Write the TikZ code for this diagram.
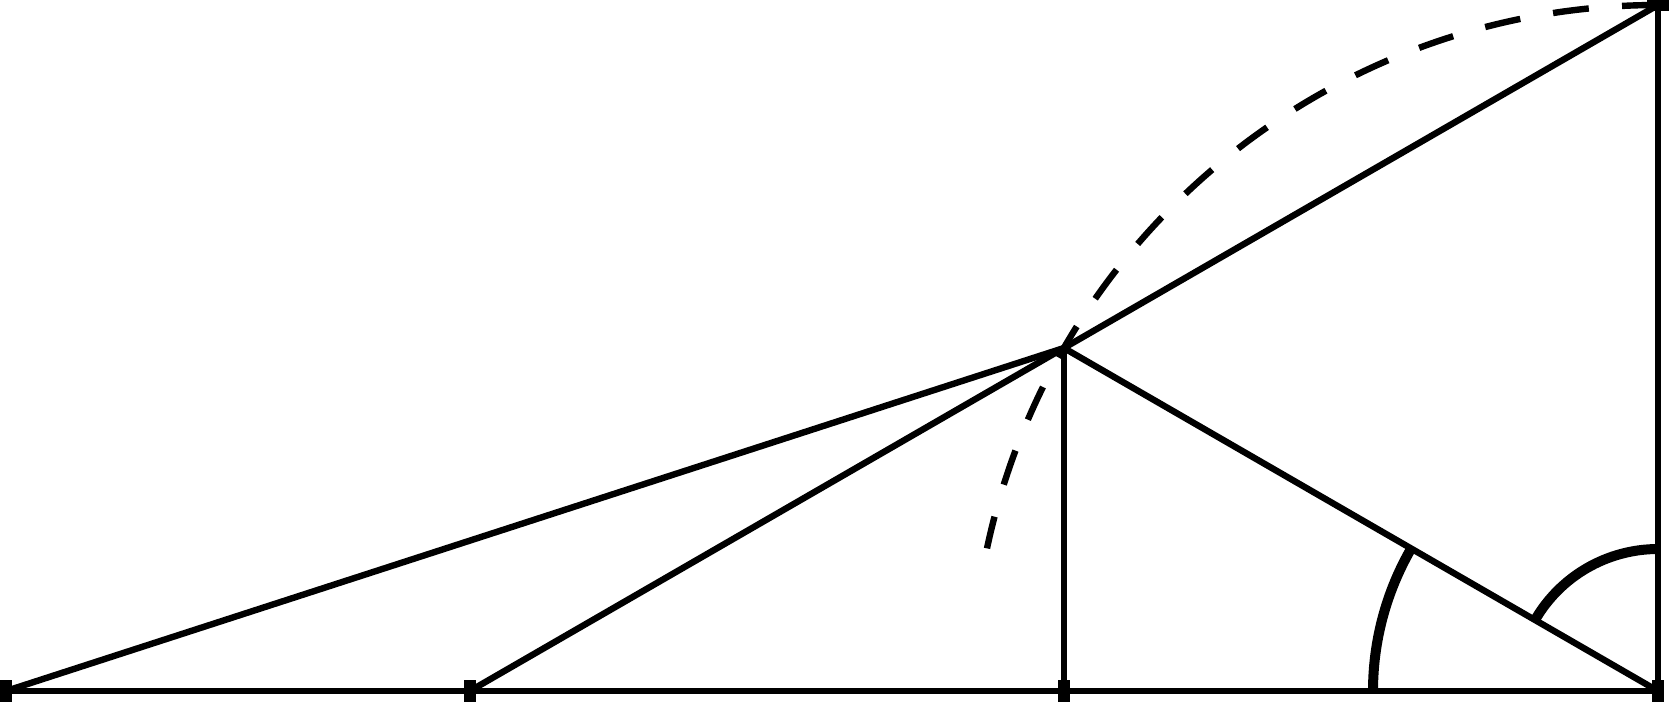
\documentclass[tikz,border=0pt]{standalone}
\usetikzlibrary{calc}
\begin{document}
\begin{tikzpicture}[x=0.75pt,y=0.75pt,yscale=-1,xscale=1,
  edge/.style={line width=4.8pt},
  anglemark/.style={line width=7.5pt},
  barmark/.style={fill=black, inner sep=0pt, minimum width=9pt, minimum height=16.5pt}]
\useasboundingbox (0,0) rectangle (1670,704);

%Points
\coordinate (A) at (6,691);
\coordinate (B) at (469.8,691);
\coordinate (C) at (1063.9,691);
\coordinate (D) at (1658,691);
\coordinate (E) at (1658,5);
\coordinate (P) at (1063.9,348);

%Straight Lines
\draw[edge] (A) -- (D);
\draw[edge] (D) -- (E);
\draw[edge] (A) -- (P);
\draw[edge] (B) -- (E);
\draw[edge] (P) -- (C);
\draw[edge] (P) -- (D);

%Dashed arc round D
\draw[edge, dash pattern={on 27pt off 25pt}] (E) arc[start angle=-90, end angle=-168, radius=686];

%Angle marks at D
\draw[anglemark] ($(D)+(0,-142)$) arc[start angle=-90, end angle=-150, radius=142];
\draw[anglemark] ($(D)+(-150:285)$) arc[start angle=-150, end angle=-180, radius=285];

%Bars
\node[barmark] (bA) at (A) {};
\node[barmark] (bB) at (B) {};
\node[barmark] (bC) at (C) {};
\node[barmark] (bD) at (D) {};
\node[barmark, rotate=90] (bE) at (E) {};

\end{tikzpicture}
\end{document}
